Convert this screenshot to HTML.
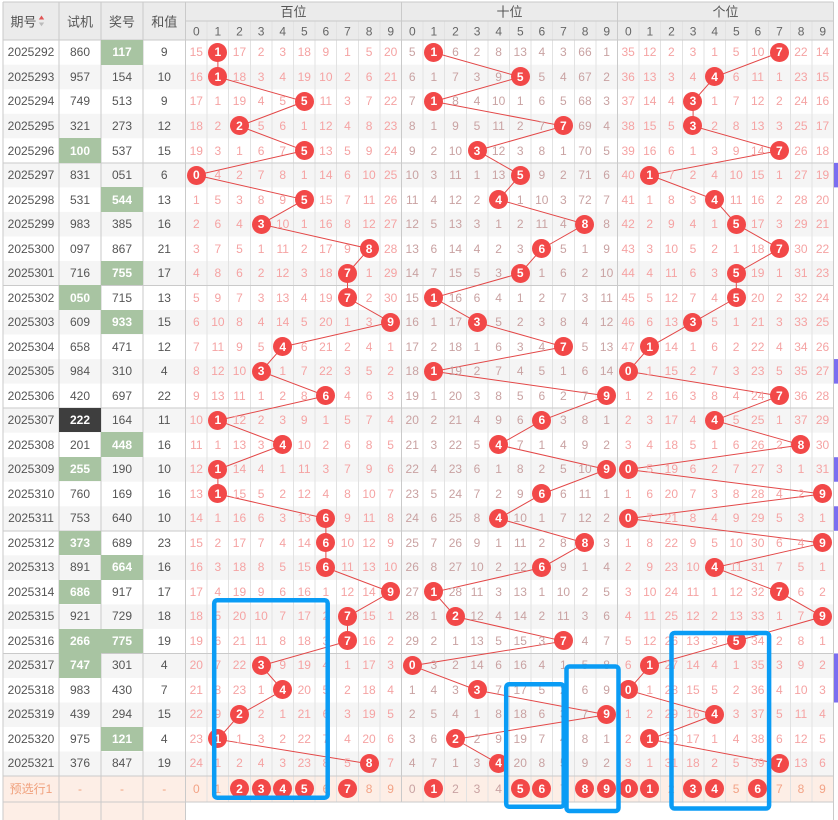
<!DOCTYPE html>
<html><head><meta charset="utf-8">
<style>
body{margin:0;width:838px;height:820px;position:relative;overflow:hidden;background:#fff;font-family:"Liberation Sans","Noto Sans CJK SC",sans-serif}
svg{position:absolute;left:0;top:0}
#rows{position:absolute;left:3px;top:40.2px;width:830.5px}
.r{display:grid;grid-template-columns:56px 42px 42px 42.5px repeat(30,21.6px);height:24.53px;font-size:12px}
.r i{font-style:normal;display:flex;align-items:center;justify-content:center;color:#f5a3a3;white-space:nowrap}
.r i:nth-child(-n+4){color:#555}
.r i:nth-child(n+15):nth-child(-n+24){color:#c9a2a2}
.r i.g{background:#a8c4a2;color:#fff;font-weight:bold}
.r i.d{background:#3e3e3e;color:#fff;font-weight:bold}
.r b{width:19px;height:19px;border-radius:50%;background:#f24848;color:#fff;display:flex;align-items:center;justify-content:center;font-weight:bold;flex:none}
.r.p{height:25.9px}
.r.p i{color:#f3a386}
.r.p i:nth-child(-n+4){color:#f0a07c}
</style></head><body>
<svg width="838" height="820" xmlns="http://www.w3.org/2000/svg">
<rect x="3" y="2" width="830.5" height="38" fill="#ebebeb"/>
<g fill="#f5f5f5">
<rect x="3" y="64.73" width="830.5" height="24.53"/><rect x="3" y="113.79" width="830.5" height="24.53"/><rect x="3" y="162.85" width="830.5" height="24.53"/><rect x="3" y="211.91" width="830.5" height="24.53"/><rect x="3" y="260.97" width="830.5" height="24.53"/><rect x="3" y="310.03" width="830.5" height="24.53"/><rect x="3" y="359.09" width="830.5" height="24.53"/><rect x="3" y="408.15" width="830.5" height="24.53"/><rect x="3" y="457.21" width="830.5" height="24.53"/><rect x="3" y="506.27" width="830.5" height="24.53"/><rect x="3" y="555.33" width="830.5" height="24.53"/><rect x="3" y="604.39" width="830.5" height="24.53"/><rect x="3" y="653.45" width="830.5" height="24.53"/><rect x="3" y="702.51" width="830.5" height="24.53"/><rect x="3" y="751.57" width="830.5" height="24.53"/>
</g>
<rect x="3" y="776.1" width="830.5" height="25.9" fill="#fdeee6"/>
<rect x="3" y="802" width="182.5" height="18" fill="#fdeee6"/>
<g fill="#7b6ef0">
<rect x="833.5" y="162.85" width="4.5" height="24.53"/><rect x="833.5" y="359.09" width="4.5" height="24.53"/><rect x="833.5" y="457.21" width="4.5" height="24.53"/><rect x="833.5" y="506.27" width="4.5" height="24.53"/><rect x="833.5" y="653.45" width="4.5" height="49.06"/>
</g>
<g stroke="#e2e2e2" stroke-width="1" shape-rendering="crispEdges">
<path d="M207.1 21V802M228.7 21V802M250.3 21V802M271.9 21V802M293.5 21V802M315.1 21V802M336.7 21V802M358.3 21V802M379.9 21V802M423.1 21V802M444.7 21V802M466.3 21V802M487.9 21V802M509.5 21V802M531.1 21V802M552.7 21V802M574.3 21V802M595.9 21V802M639.1 21V802M660.7 21V802M682.3 21V802M703.9 21V802M725.5 21V802M747.1 21V802M768.7 21V802M790.3 21V802M811.9 21V802"/>
</g>
<g stroke="#cacaca" stroke-width="1" shape-rendering="crispEdges">
<path d="M3 2V820M59 2V820M101 2V820M143 2V820M185.5 2V820M401.5 2V802M617.5 2V802M833.5 2V820"/>
<path d="M3 2H833.5M185.5 21H833.5M3 40H833.5M3 162.85H833.5M3 285.5H833.5M3 408.15H833.5M3 530.8H833.5M3 653.45H833.5M3 776.1H833.5M3 802H833.5"/>
</g>
<g fill="none" stroke="#e34848" stroke-width="1">
<polyline points="217.9,52.47 217.9,77 304.3,101.53 239.5,126.06 304.3,150.59 196.3,175.12 304.3,199.65 261.1,224.18 369.1,248.71 347.5,273.24 347.5,297.77 390.7,322.3 282.7,346.83 261.1,371.36 325.9,395.89 217.9,420.42 282.7,444.95 217.9,469.48 217.9,494.01 325.9,518.54 325.9,543.07 325.9,567.6 390.7,592.13 347.5,616.66 347.5,641.19 261.1,665.72 282.7,690.25 239.5,714.78 217.9,739.31 369.1,763.84"/>
<polyline points="433.9,52.47 520.3,77 433.9,101.53 563.5,126.06 477.1,150.59 520.3,175.12 498.7,199.65 585.1,224.18 541.9,248.71 520.3,273.24 433.9,297.77 477.1,322.3 563.5,346.83 433.9,371.36 606.7,395.89 541.9,420.42 498.7,444.95 606.7,469.48 541.9,494.01 498.7,518.54 585.1,543.07 541.9,567.6 433.9,592.13 455.5,616.66 563.5,641.19 412.3,665.72 477.1,690.25 606.7,714.78 455.5,739.31 498.7,763.84"/>
<polyline points="779.5,52.47 714.7,77 693.1,101.53 693.1,126.06 779.5,150.59 649.9,175.12 714.7,199.65 736.3,224.18 779.5,248.71 736.3,273.24 736.3,297.77 693.1,322.3 649.9,346.83 628.3,371.36 779.5,395.89 714.7,420.42 801.1,444.95 628.3,469.48 822.7,494.01 628.3,518.54 822.7,543.07 714.7,567.6 779.5,592.13 822.7,616.66 736.3,641.19 649.9,665.72 628.3,690.25 714.7,714.78 649.9,739.31 779.5,763.84"/>
</g>
<g font-family="Liberation Sans, Noto Sans CJK SC, sans-serif" text-anchor="middle">
<g font-size="13" fill="#555">
<text x="23.5" y="26.5">期号</text><text x="80" y="26.5">试机</text><text x="122" y="26.5">奖号</text><text x="164.2" y="26.5">和值</text>
<text x="293.5" y="16.3">百位</text><text x="509.5" y="16.3">十位</text><text x="725.5" y="16.3">个位</text>
</g>
<polygon points="38.8,19.5 44.2,19.5 41.5,15.5" fill="#e05555"/>
<polygon points="38.8,22.5 44.2,22.5 41.5,26.2" fill="#bbbbbb"/>
<g font-size="12" fill="#666">
<text x="196.3" y="35.5">0</text><text x="217.9" y="35.5">1</text><text x="239.5" y="35.5">2</text><text x="261.1" y="35.5">3</text><text x="282.7" y="35.5">4</text><text x="304.3" y="35.5">5</text><text x="325.9" y="35.5">6</text><text x="347.5" y="35.5">7</text><text x="369.1" y="35.5">8</text><text x="390.7" y="35.5">9</text>
<text x="412.3" y="35.5">0</text><text x="433.9" y="35.5">1</text><text x="455.5" y="35.5">2</text><text x="477.1" y="35.5">3</text><text x="498.7" y="35.5">4</text><text x="520.3" y="35.5">5</text><text x="541.9" y="35.5">6</text><text x="563.5" y="35.5">7</text><text x="585.1" y="35.5">8</text><text x="606.7" y="35.5">9</text>
<text x="628.3" y="35.5">0</text><text x="649.9" y="35.5">1</text><text x="671.5" y="35.5">2</text><text x="693.1" y="35.5">3</text><text x="714.7" y="35.5">4</text><text x="736.3" y="35.5">5</text><text x="757.9" y="35.5">6</text><text x="779.5" y="35.5">7</text><text x="801.1" y="35.5">8</text><text x="822.7" y="35.5">9</text>
</g>
</g>
</svg>
<div id="rows">
<div class="r"><i>2025292</i><i>860</i><i class="g">117</i><i>9</i><i>15</i><i><b>1</b></i><i>17</i><i>2</i><i>3</i><i>18</i><i>9</i><i>1</i><i>5</i><i>20</i><i>5</i><i><b>1</b></i><i>6</i><i>2</i><i>8</i><i>13</i><i>4</i><i>3</i><i>66</i><i>1</i><i>35</i><i>12</i><i>2</i><i>3</i><i>1</i><i>5</i><i>10</i><i><b>7</b></i><i>22</i><i>14</i></div>
<div class="r"><i>2025293</i><i>957</i><i>154</i><i>10</i><i>16</i><i><b>1</b></i><i>18</i><i>3</i><i>4</i><i>19</i><i>10</i><i>2</i><i>6</i><i>21</i><i>6</i><i>1</i><i>7</i><i>3</i><i>9</i><i><b>5</b></i><i>5</i><i>4</i><i>67</i><i>2</i><i>36</i><i>13</i><i>3</i><i>4</i><i><b>4</b></i><i>6</i><i>11</i><i>1</i><i>23</i><i>15</i></div>
<div class="r"><i>2025294</i><i>749</i><i>513</i><i>9</i><i>17</i><i>1</i><i>19</i><i>4</i><i>5</i><i><b>5</b></i><i>11</i><i>3</i><i>7</i><i>22</i><i>7</i><i><b>1</b></i><i>8</i><i>4</i><i>10</i><i>1</i><i>6</i><i>5</i><i>68</i><i>3</i><i>37</i><i>14</i><i>4</i><i><b>3</b></i><i>1</i><i>7</i><i>12</i><i>2</i><i>24</i><i>16</i></div>
<div class="r"><i>2025295</i><i>321</i><i>273</i><i>12</i><i>18</i><i>2</i><i><b>2</b></i><i>5</i><i>6</i><i>1</i><i>12</i><i>4</i><i>8</i><i>23</i><i>8</i><i>1</i><i>9</i><i>5</i><i>11</i><i>2</i><i>7</i><i><b>7</b></i><i>69</i><i>4</i><i>38</i><i>15</i><i>5</i><i><b>3</b></i><i>2</i><i>8</i><i>13</i><i>3</i><i>25</i><i>17</i></div>
<div class="r"><i>2025296</i><i class="g">100</i><i>537</i><i>15</i><i>19</i><i>3</i><i>1</i><i>6</i><i>7</i><i><b>5</b></i><i>13</i><i>5</i><i>9</i><i>24</i><i>9</i><i>2</i><i>10</i><i><b>3</b></i><i>12</i><i>3</i><i>8</i><i>1</i><i>70</i><i>5</i><i>39</i><i>16</i><i>6</i><i>1</i><i>3</i><i>9</i><i>14</i><i><b>7</b></i><i>26</i><i>18</i></div>
<div class="r"><i>2025297</i><i>831</i><i>051</i><i>6</i><i><b>0</b></i><i>4</i><i>2</i><i>7</i><i>8</i><i>1</i><i>14</i><i>6</i><i>10</i><i>25</i><i>10</i><i>3</i><i>11</i><i>1</i><i>13</i><i><b>5</b></i><i>9</i><i>2</i><i>71</i><i>6</i><i>40</i><i><b>1</b></i><i>7</i><i>2</i><i>4</i><i>10</i><i>15</i><i>1</i><i>27</i><i>19</i></div>
<div class="r"><i>2025298</i><i>531</i><i class="g">544</i><i>13</i><i>1</i><i>5</i><i>3</i><i>8</i><i>9</i><i><b>5</b></i><i>15</i><i>7</i><i>11</i><i>26</i><i>11</i><i>4</i><i>12</i><i>2</i><i><b>4</b></i><i>1</i><i>10</i><i>3</i><i>72</i><i>7</i><i>41</i><i>1</i><i>8</i><i>3</i><i><b>4</b></i><i>11</i><i>16</i><i>2</i><i>28</i><i>20</i></div>
<div class="r"><i>2025299</i><i>983</i><i>385</i><i>16</i><i>2</i><i>6</i><i>4</i><i><b>3</b></i><i>10</i><i>1</i><i>16</i><i>8</i><i>12</i><i>27</i><i>12</i><i>5</i><i>13</i><i>3</i><i>1</i><i>2</i><i>11</i><i>4</i><i><b>8</b></i><i>8</i><i>42</i><i>2</i><i>9</i><i>4</i><i>1</i><i><b>5</b></i><i>17</i><i>3</i><i>29</i><i>21</i></div>
<div class="r"><i>2025300</i><i>097</i><i>867</i><i>21</i><i>3</i><i>7</i><i>5</i><i>1</i><i>11</i><i>2</i><i>17</i><i>9</i><i><b>8</b></i><i>28</i><i>13</i><i>6</i><i>14</i><i>4</i><i>2</i><i>3</i><i><b>6</b></i><i>5</i><i>1</i><i>9</i><i>43</i><i>3</i><i>10</i><i>5</i><i>2</i><i>1</i><i>18</i><i><b>7</b></i><i>30</i><i>22</i></div>
<div class="r"><i>2025301</i><i>716</i><i class="g">755</i><i>17</i><i>4</i><i>8</i><i>6</i><i>2</i><i>12</i><i>3</i><i>18</i><i><b>7</b></i><i>1</i><i>29</i><i>14</i><i>7</i><i>15</i><i>5</i><i>3</i><i><b>5</b></i><i>1</i><i>6</i><i>2</i><i>10</i><i>44</i><i>4</i><i>11</i><i>6</i><i>3</i><i><b>5</b></i><i>19</i><i>1</i><i>31</i><i>23</i></div>
<div class="r"><i>2025302</i><i class="g">050</i><i>715</i><i>13</i><i>5</i><i>9</i><i>7</i><i>3</i><i>13</i><i>4</i><i>19</i><i><b>7</b></i><i>2</i><i>30</i><i>15</i><i><b>1</b></i><i>16</i><i>6</i><i>4</i><i>1</i><i>2</i><i>7</i><i>3</i><i>11</i><i>45</i><i>5</i><i>12</i><i>7</i><i>4</i><i><b>5</b></i><i>20</i><i>2</i><i>32</i><i>24</i></div>
<div class="r"><i>2025303</i><i>609</i><i class="g">933</i><i>15</i><i>6</i><i>10</i><i>8</i><i>4</i><i>14</i><i>5</i><i>20</i><i>1</i><i>3</i><i><b>9</b></i><i>16</i><i>1</i><i>17</i><i><b>3</b></i><i>5</i><i>2</i><i>3</i><i>8</i><i>4</i><i>12</i><i>46</i><i>6</i><i>13</i><i><b>3</b></i><i>5</i><i>1</i><i>21</i><i>3</i><i>33</i><i>25</i></div>
<div class="r"><i>2025304</i><i>658</i><i>471</i><i>12</i><i>7</i><i>11</i><i>9</i><i>5</i><i><b>4</b></i><i>6</i><i>21</i><i>2</i><i>4</i><i>1</i><i>17</i><i>2</i><i>18</i><i>1</i><i>6</i><i>3</i><i>4</i><i><b>7</b></i><i>5</i><i>13</i><i>47</i><i><b>1</b></i><i>14</i><i>1</i><i>6</i><i>2</i><i>22</i><i>4</i><i>34</i><i>26</i></div>
<div class="r"><i>2025305</i><i>984</i><i>310</i><i>4</i><i>8</i><i>12</i><i>10</i><i><b>3</b></i><i>1</i><i>7</i><i>22</i><i>3</i><i>5</i><i>2</i><i>18</i><i><b>1</b></i><i>19</i><i>2</i><i>7</i><i>4</i><i>5</i><i>1</i><i>6</i><i>14</i><i><b>0</b></i><i>1</i><i>15</i><i>2</i><i>7</i><i>3</i><i>23</i><i>5</i><i>35</i><i>27</i></div>
<div class="r"><i>2025306</i><i>420</i><i>697</i><i>22</i><i>9</i><i>13</i><i>11</i><i>1</i><i>2</i><i>8</i><i><b>6</b></i><i>4</i><i>6</i><i>3</i><i>19</i><i>1</i><i>20</i><i>3</i><i>8</i><i>5</i><i>6</i><i>2</i><i>7</i><i><b>9</b></i><i>1</i><i>2</i><i>16</i><i>3</i><i>8</i><i>4</i><i>24</i><i><b>7</b></i><i>36</i><i>28</i></div>
<div class="r"><i>2025307</i><i class="d">222</i><i>164</i><i>11</i><i>10</i><i><b>1</b></i><i>12</i><i>2</i><i>3</i><i>9</i><i>1</i><i>5</i><i>7</i><i>4</i><i>20</i><i>2</i><i>21</i><i>4</i><i>9</i><i>6</i><i><b>6</b></i><i>3</i><i>8</i><i>1</i><i>2</i><i>3</i><i>17</i><i>4</i><i><b>4</b></i><i>5</i><i>25</i><i>1</i><i>37</i><i>29</i></div>
<div class="r"><i>2025308</i><i>201</i><i class="g">448</i><i>16</i><i>11</i><i>1</i><i>13</i><i>3</i><i><b>4</b></i><i>10</i><i>2</i><i>6</i><i>8</i><i>5</i><i>21</i><i>3</i><i>22</i><i>5</i><i><b>4</b></i><i>7</i><i>1</i><i>4</i><i>9</i><i>2</i><i>3</i><i>4</i><i>18</i><i>5</i><i>1</i><i>6</i><i>26</i><i>2</i><i><b>8</b></i><i>30</i></div>
<div class="r"><i>2025309</i><i class="g">255</i><i>190</i><i>10</i><i>12</i><i><b>1</b></i><i>14</i><i>4</i><i>1</i><i>11</i><i>3</i><i>7</i><i>9</i><i>6</i><i>22</i><i>4</i><i>23</i><i>6</i><i>1</i><i>8</i><i>2</i><i>5</i><i>10</i><i><b>9</b></i><i><b>0</b></i><i>5</i><i>19</i><i>6</i><i>2</i><i>7</i><i>27</i><i>3</i><i>1</i><i>31</i></div>
<div class="r"><i>2025310</i><i>760</i><i>169</i><i>16</i><i>13</i><i><b>1</b></i><i>15</i><i>5</i><i>2</i><i>12</i><i>4</i><i>8</i><i>10</i><i>7</i><i>23</i><i>5</i><i>24</i><i>7</i><i>2</i><i>9</i><i><b>6</b></i><i>6</i><i>11</i><i>1</i><i>1</i><i>6</i><i>20</i><i>7</i><i>3</i><i>8</i><i>28</i><i>4</i><i>2</i><i><b>9</b></i></div>
<div class="r"><i>2025311</i><i>753</i><i>640</i><i>10</i><i>14</i><i>1</i><i>16</i><i>6</i><i>3</i><i>13</i><i><b>6</b></i><i>9</i><i>11</i><i>8</i><i>24</i><i>6</i><i>25</i><i>8</i><i><b>4</b></i><i>10</i><i>1</i><i>7</i><i>12</i><i>2</i><i><b>0</b></i><i>7</i><i>21</i><i>8</i><i>4</i><i>9</i><i>29</i><i>5</i><i>3</i><i>1</i></div>
<div class="r"><i>2025312</i><i class="g">373</i><i>689</i><i>23</i><i>15</i><i>2</i><i>17</i><i>7</i><i>4</i><i>14</i><i><b>6</b></i><i>10</i><i>12</i><i>9</i><i>25</i><i>7</i><i>26</i><i>9</i><i>1</i><i>11</i><i>2</i><i>8</i><i><b>8</b></i><i>3</i><i>1</i><i>8</i><i>22</i><i>9</i><i>5</i><i>10</i><i>30</i><i>6</i><i>4</i><i><b>9</b></i></div>
<div class="r"><i>2025313</i><i>891</i><i class="g">664</i><i>16</i><i>16</i><i>3</i><i>18</i><i>8</i><i>5</i><i>15</i><i><b>6</b></i><i>11</i><i>13</i><i>10</i><i>26</i><i>8</i><i>27</i><i>10</i><i>2</i><i>12</i><i><b>6</b></i><i>9</i><i>1</i><i>4</i><i>2</i><i>9</i><i>23</i><i>10</i><i><b>4</b></i><i>11</i><i>31</i><i>7</i><i>5</i><i>1</i></div>
<div class="r"><i>2025314</i><i class="g">686</i><i>917</i><i>17</i><i>17</i><i>4</i><i>19</i><i>9</i><i>6</i><i>16</i><i>1</i><i>12</i><i>14</i><i><b>9</b></i><i>27</i><i><b>1</b></i><i>28</i><i>11</i><i>3</i><i>13</i><i>1</i><i>10</i><i>2</i><i>5</i><i>3</i><i>10</i><i>24</i><i>11</i><i>1</i><i>12</i><i>32</i><i><b>7</b></i><i>6</i><i>2</i></div>
<div class="r"><i>2025315</i><i>921</i><i>729</i><i>18</i><i>18</i><i>5</i><i>20</i><i>10</i><i>7</i><i>17</i><i>2</i><i><b>7</b></i><i>15</i><i>1</i><i>28</i><i>1</i><i><b>2</b></i><i>12</i><i>4</i><i>14</i><i>2</i><i>11</i><i>3</i><i>6</i><i>4</i><i>11</i><i>25</i><i>12</i><i>2</i><i>13</i><i>33</i><i>1</i><i>7</i><i><b>9</b></i></div>
<div class="r"><i>2025316</i><i class="g">266</i><i class="g">775</i><i>19</i><i>19</i><i>6</i><i>21</i><i>11</i><i>8</i><i>18</i><i>3</i><i><b>7</b></i><i>16</i><i>2</i><i>29</i><i>2</i><i>1</i><i>13</i><i>5</i><i>15</i><i>3</i><i><b>7</b></i><i>4</i><i>7</i><i>5</i><i>12</i><i>26</i><i>13</i><i>3</i><i><b>5</b></i><i>34</i><i>2</i><i>8</i><i>1</i></div>
<div class="r"><i>2025317</i><i class="g">747</i><i>301</i><i>4</i><i>20</i><i>7</i><i>22</i><i><b>3</b></i><i>9</i><i>19</i><i>4</i><i>1</i><i>17</i><i>3</i><i><b>0</b></i><i>3</i><i>2</i><i>14</i><i>6</i><i>16</i><i>4</i><i>1</i><i>5</i><i>8</i><i>6</i><i><b>1</b></i><i>27</i><i>14</i><i>4</i><i>1</i><i>35</i><i>3</i><i>9</i><i>2</i></div>
<div class="r"><i>2025318</i><i>983</i><i>430</i><i>7</i><i>21</i><i>8</i><i>23</i><i>1</i><i><b>4</b></i><i>20</i><i>5</i><i>2</i><i>18</i><i>4</i><i>1</i><i>4</i><i>3</i><i><b>3</b></i><i>7</i><i>17</i><i>5</i><i>2</i><i>6</i><i>9</i><i><b>0</b></i><i>1</i><i>28</i><i>15</i><i>5</i><i>2</i><i>36</i><i>4</i><i>10</i><i>3</i></div>
<div class="r"><i>2025319</i><i>439</i><i>294</i><i>15</i><i>22</i><i>9</i><i><b>2</b></i><i>2</i><i>1</i><i>21</i><i>6</i><i>3</i><i>19</i><i>5</i><i>2</i><i>5</i><i>4</i><i>1</i><i>8</i><i>18</i><i>6</i><i>3</i><i>7</i><i><b>9</b></i><i>1</i><i>2</i><i>29</i><i>16</i><i><b>4</b></i><i>3</i><i>37</i><i>5</i><i>11</i><i>4</i></div>
<div class="r"><i>2025320</i><i>975</i><i class="g">121</i><i>4</i><i>23</i><i><b>1</b></i><i>1</i><i>3</i><i>2</i><i>22</i><i>7</i><i>4</i><i>20</i><i>6</i><i>3</i><i>6</i><i><b>2</b></i><i>2</i><i>9</i><i>19</i><i>7</i><i>4</i><i>8</i><i>1</i><i>2</i><i><b>1</b></i><i>30</i><i>17</i><i>1</i><i>4</i><i>38</i><i>6</i><i>12</i><i>5</i></div>
<div class="r"><i>2025321</i><i>376</i><i>847</i><i>19</i><i>24</i><i>1</i><i>2</i><i>4</i><i>3</i><i>23</i><i>8</i><i>5</i><i><b>8</b></i><i>7</i><i>4</i><i>7</i><i>1</i><i>3</i><i><b>4</b></i><i>20</i><i>8</i><i>5</i><i>9</i><i>2</i><i>3</i><i>1</i><i>31</i><i>18</i><i>2</i><i>5</i><i>39</i><i><b>7</b></i><i>13</i><i>6</i></div>
<div class="r p"><i>预选行1</i><i>-</i><i>-</i><i>-</i><i>0</i><i>1</i><i><b>2</b></i><i><b>3</b></i><i><b>4</b></i><i><b>5</b></i><i>6</i><i><b>7</b></i><i>8</i><i>9</i><i>0</i><i><b>1</b></i><i>2</i><i>3</i><i>4</i><i><b>5</b></i><i><b>6</b></i><i>7</i><i><b>8</b></i><i><b>9</b></i><i><b>0</b></i><i><b>1</b></i><i>2</i><i><b>3</b></i><i><b>4</b></i><i>5</i><i><b>6</b></i><i>7</i><i>8</i><i>9</i></div>
</div>
<svg width="838" height="820" xmlns="http://www.w3.org/2000/svg" style="pointer-events:none">
<g fill="none" stroke="#0a9cf5" stroke-width="4.5">
<rect x="214.2" y="600.2" width="113.5" height="197.5" rx="3"/>
<rect x="506.2" y="684.2" width="57.5" height="122.6" rx="3"/>
<rect x="566.5" y="666.5" width="52" height="144.5" rx="3"/>
<rect x="671.5" y="633" width="97.6" height="175.5" rx="3"/>
</g>
</svg>
</body></html>
